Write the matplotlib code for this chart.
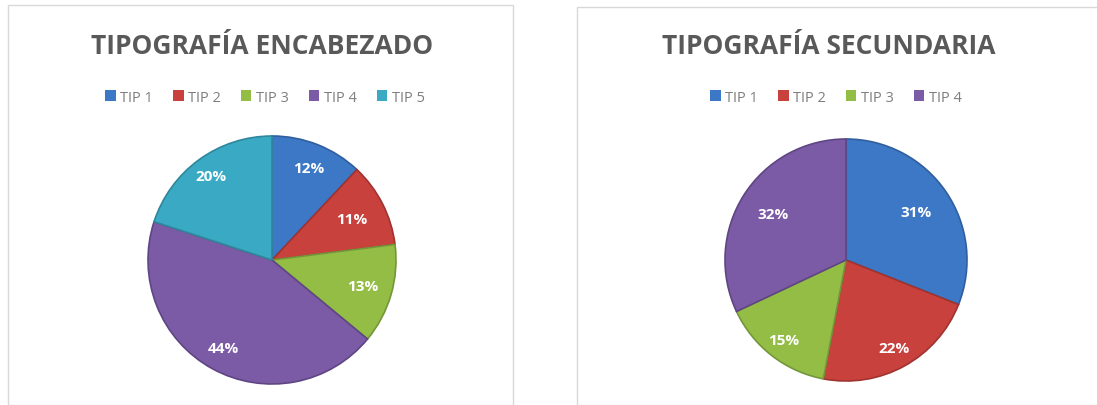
import matplotlib
matplotlib.use("Agg")
import matplotlib.pyplot as plt
from matplotlib.patches import Rectangle, Patch
import numpy as np

# Data
left_title = "TIPOGRAFÍA ENCABEZADO"
left_labels = ["TIP 1", "TIP 2", "TIP 3", "TIP 4", "TIP 5"]
left_values = [12, 11, 13, 44, 20]

right_title = "TIPOGRAFÍA SECUNDARIA"
right_labels = ["TIP 1", "TIP 2", "TIP 3", "TIP 4"]
right_values = [31, 22, 15, 32]

# Styles
colors = ["#3d78c6", "#c9413d", "#93bd45", "#7b5aa6", "#3aaac4"]
edge_colors = ["#2f5f9e", "#9f3330", "#74963a", "#5f4683", "#2e879b"]
left_pct_dist = [0.80, 0.72, 0.76, 0.81, 0.84]
right_pct_dist = [0.70, 0.83, 0.84, 0.71]

W, H = 1097, 406
fig = plt.figure(figsize=(W / 100, H / 100), dpi=100)
fig.patch.set_facecolor("white")

# panel borders
fig.patches.append(Rectangle((8 / W, 0), (513 - 8) / W, (H - 6) / H, transform=fig.transFigure,
                             fill=False, edgecolor="#d9d9d9", linewidth=1))
fig.patches.append(Rectangle((577 / W, 0), (W + 5 - 577) / W, (H - 8) / H, transform=fig.transFigure,
                             fill=False, edgecolor="#d9d9d9", linewidth=1))


def draw(cx, cy, r, values, labels, dists, title, tx, lx):
    ax = fig.add_axes([(cx - r) / W, (H - cy - r) / H, 2 * r / W, 2 * r / H])
    n = len(values)
    wedges, texts, autotexts = ax.pie(
        values, colors=colors[:n], startangle=90, counterclock=False,
        autopct=lambda p: f"{p:.0f}%", pctdistance=0.78, radius=1.0,
        wedgeprops=dict(linewidth=1.2),
        textprops=dict(color="white", fontsize=11, fontweight="bold", family="Open Sans"))
    for w, ec in zip(wedges, edge_colors[:n]):
        w.set_edgecolor(ec)
    for w, t, d in zip(wedges, autotexts, dists):
        ang = np.deg2rad((w.theta1 + w.theta2) / 2)
        t.set_position((d * np.cos(ang), d * np.sin(ang)))
    ax.set_xlim(-1, 1)
    ax.set_ylim(-1, 1)
    ax.set_aspect("equal")
    ax.axis("off")
    fig.text(tx / W, 1 - 47 / H, title, ha="center", va="center", fontsize=19,
             fontweight="bold", color="#595959", family="Open Sans")
    handles = [Patch(facecolor=c, edgecolor="none") for c in colors[:n]]
    fig.legend(handles, labels, loc="center", bbox_to_anchor=(lx / W, 1 - 98 / H),
               ncol=n, frameon=False, handlelength=0.7, handleheight=0.7,
               handletextpad=0.3, columnspacing=1.4, labelcolor="#7f7f7f",
               prop=dict(family="Open Sans", size=10.5))


draw(272, 261, 124, left_values, left_labels, left_pct_dist, left_title, 262, 265)
draw(846, 261, 121, right_values, right_labels, right_pct_dist, right_title, 829, 836)

fig.savefig("out.png", dpi=100)
